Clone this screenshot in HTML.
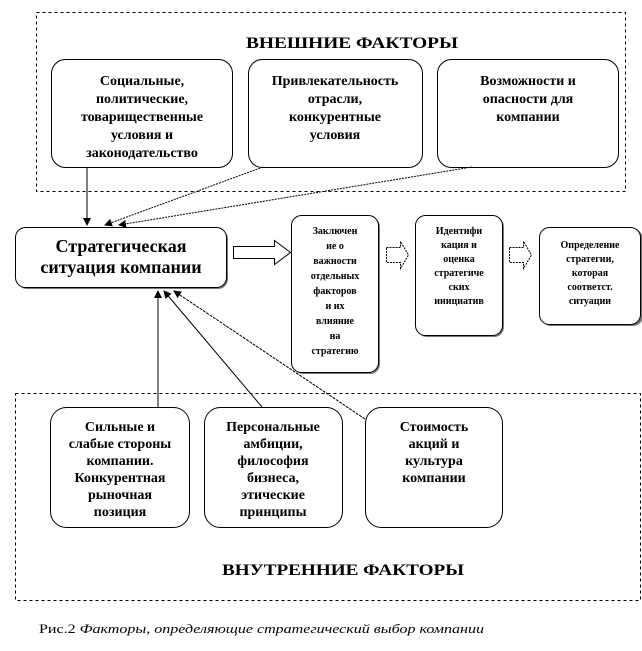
<!DOCTYPE html>
<html><head><meta charset="utf-8"><style>
html,body{margin:0;padding:0;background:#fff;}
svg{display:block;}
text{font-family:"Liberation Serif",serif;font-weight:bold;fill:#000;}
</style></head><body>
<svg width="642" height="651" viewBox="0 0 642 651" xmlns="http://www.w3.org/2000/svg">
<defs>
<marker id="ah" markerWidth="8" markerHeight="8" refX="7" refY="4" orient="auto" markerUnits="userSpaceOnUse">
<path d="M0,0 L8,4 L0,8 z" fill="#000"/></marker>
</defs>
<rect x="36.5" y="12.5" width="589" height="179" fill="none" stroke="#000" stroke-width="1" stroke-dasharray="3,3"/>
<rect x="15.5" y="393.5" width="625" height="207" fill="none" stroke="#000" stroke-width="1" stroke-dasharray="3,3"/>
<text x="246" y="48" font-size="16" textLength="212" lengthAdjust="spacingAndGlyphs">ВНЕШНИЕ ФАКТОРЫ</text>
<text x="222" y="575" font-size="16" textLength="242" lengthAdjust="spacingAndGlyphs">ВНУТРЕННИЕ ФАКТОРЫ</text>

<g fill="#fff" stroke="#000" stroke-width="1">
<rect x="51.5" y="59.5" width="181" height="108" rx="14"/>
<rect x="248.5" y="59.5" width="174" height="108" rx="14"/>
<rect x="437.5" y="59.5" width="181" height="108" rx="14"/>
</g>
<g font-size="14" text-anchor="middle">
<text x="142" y="85">Социальные,</text>
<text x="142" y="103">политические,</text>
<text x="142" y="121">товарищественные</text>
<text x="142" y="139">условия и</text>
<text x="142" y="157">законодательство</text>
<text x="335" y="85">Привлекательность</text>
<text x="335" y="103">отрасли,</text>
<text x="335" y="121">конкурентные</text>
<text x="335" y="139">условия</text>
<text x="528" y="85">Возможности и</text>
<text x="528" y="103">опасности для</text>
<text x="528" y="121">компании</text>
</g>

<line x1="87" y1="167" x2="87" y2="225" stroke="#000" marker-end="url(#ah)"/>
<line x1="263" y1="167" x2="105" y2="225" stroke="#000" stroke-dasharray="2,1" marker-end="url(#ah)"/>
<line x1="472" y1="167" x2="119" y2="225" stroke="#000" stroke-dasharray="2,1" marker-end="url(#ah)"/>

<rect x="17" y="229" width="211" height="60" rx="10" fill="#777"/>
<rect x="15.5" y="227.5" width="211" height="60" rx="10" fill="#fff" stroke="#000"/>
<text x="121" y="252" font-size="18" text-anchor="middle">Стратегическая</text>
<text x="121" y="273" font-size="18" text-anchor="middle">ситуация компании</text>

<path d="M233.5,246.5 H274.5 V240.5 L290.5,252.5 L274.5,264.5 V258.5 H233.5 Z" fill="#fff" stroke="#000"/>
<path d="M386.5,247.5 H400.5 V241.5 L408.5,255 L400.5,268.5 V262.5 H386.5 Z" fill="#fff" stroke="#000" stroke-dasharray="2,1"/>
<path d="M509.5,247.5 H523.5 V241.5 L531.5,255 L523.5,268.5 V262.5 H509.5 Z" fill="#fff" stroke="#000" stroke-dasharray="2,1"/>

<rect x="293" y="217" width="87" height="157" rx="10" fill="#777"/>
<rect x="291.5" y="215.5" width="87" height="157" rx="10" fill="#fff" stroke="#000"/>
<rect x="417" y="217" width="87" height="120" rx="10" fill="#777"/>
<rect x="415.5" y="215.5" width="87" height="120" rx="10" fill="#fff" stroke="#000"/>
<rect x="541" y="229" width="102" height="97" rx="10" fill="#777"/>
<rect x="539.5" y="227.5" width="101" height="97" rx="10" fill="#fff" stroke="#000"/>
<g font-size="10" text-anchor="middle">
<text x="335" y="234">Заключен</text>
<text x="335" y="249">ие о</text>
<text x="335" y="264">важности</text>
<text x="335" y="279">отдельных</text>
<text x="335" y="294">факторов</text>
<text x="335" y="309">и их</text>
<text x="335" y="324">влияние</text>
<text x="335" y="339">на</text>
<text x="335" y="354">стратегию</text>
<text x="459" y="234">Идентифи</text>
<text x="459" y="248">кация и</text>
<text x="459" y="262">оценка</text>
<text x="459" y="276">стратегиче</text>
<text x="459" y="290">ских</text>
<text x="459" y="304">инициатив</text>
<text x="590" y="248">Определение</text>
<text x="590" y="262">стратегии,</text>
<text x="590" y="276">которая</text>
<text x="590" y="290">соответст.</text>
<text x="590" y="304">ситуации</text>
</g>

<g fill="#fff" stroke="#000" stroke-width="1">
<rect x="50.5" y="407.5" width="139" height="120" rx="16"/>
<rect x="204.5" y="407.5" width="138" height="120" rx="16"/>
<rect x="365.5" y="407.5" width="137" height="120" rx="16"/>
</g>
<g font-size="14" text-anchor="middle">
<text x="120" y="431">Сильные и</text>
<text x="120" y="448">слабые стороны</text>
<text x="120" y="465">компании.</text>
<text x="120" y="482">Конкурентная</text>
<text x="120" y="499">рыночная</text>
<text x="120" y="516">позиция</text>
<text x="273" y="431">Персональные</text>
<text x="273" y="448">амбиции,</text>
<text x="273" y="465">философия</text>
<text x="273" y="482">бизнеса,</text>
<text x="273" y="499">этические</text>
<text x="273" y="516">принципы</text>
<text x="434" y="431">Стоимость</text>
<text x="434" y="448">акций и</text>
<text x="434" y="465">культура</text>
<text x="434" y="482">компании</text>
</g>

<line x1="158" y1="407" x2="158" y2="291" stroke="#000" marker-end="url(#ah)"/>
<line x1="262" y1="407" x2="164" y2="291" stroke="#000" marker-end="url(#ah)"/>
<line x1="365" y1="419" x2="174" y2="291" stroke="#000" stroke-dasharray="3,1" marker-end="url(#ah)"/>

<text x="39" y="633" font-size="13" style="font-weight:normal" textLength="445" lengthAdjust="spacingAndGlyphs">Рис.2 <tspan font-style="italic">Факторы, определяющие  стратегический выбор компании</tspan></text>
</svg>
</body></html>
